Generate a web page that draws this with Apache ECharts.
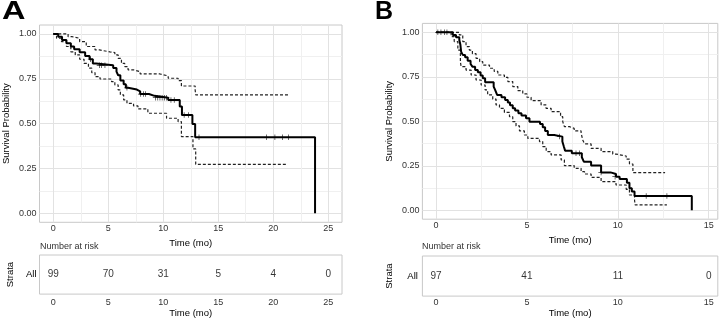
<!DOCTYPE html>
<html><head><meta charset="utf-8">
<script src="https://cdn.jsdelivr.net/npm/echarts@6/dist/echarts.min.js"></script>
<style>html,body{margin:0;padding:0;background:#fff}#c{width:722px;height:319px}</style>
</head><body><div id="c"></div>
<script>
// ---------- Panel A data ----------
const aTime = [0, 0.45, 0.8, 1.2, 1.6, 1.9, 2.4, 2.9, 3.3, 3.6, 3.9, 5.45, 5.75, 5.9, 6.1, 6.4, 6.6, 6.8, 7.6, 7.9, 8.7, 9.2, 10.45, 11.5, 11.7, 12.65, 12.9, 23.8];
const aSurv = [1, 0.985, 0.967, 0.948, 0.93, 0.915, 0.898, 0.877, 0.859, 0.836, 0.825, 0.81, 0.79, 0.77, 0.74, 0.72, 0.70, 0.69, 0.68, 0.665, 0.655, 0.645, 0.632, 0.595, 0.548, 0.498, 0.424, 0];
const aUpperTime = [0, 0.6, 1.35, 1.7, 2.4, 3.0, 3.8, 4.2, 5.15, 5.6, 5.9, 6.2, 6.5, 6.8, 7.3, 7.9, 9.7, 10.45, 11.35, 11.65, 12.9, 12.95, 21.4];
const aUpper = [1, 1, 0.985, 0.976, 0.957, 0.93, 0.911, 0.90, 0.896, 0.883, 0.864, 0.836, 0.818, 0.80, 0.79, 0.777, 0.766, 0.753, 0.74, 0.71, 0.688, 0.66, 0.66];
const aLowerTime = [0, 0.3, 0.75, 1.2, 1.6, 2.0, 2.4, 2.8, 3.2, 3.5, 3.8, 4.25, 5.3, 5.6, 5.9, 6.1, 6.4, 6.7, 7.3, 7.7, 8.6, 10.3, 11.35, 11.65, 12.7, 12.95, 21.15];
const aLower = [1, 0.976, 0.957, 0.93, 0.90, 0.883, 0.859, 0.836, 0.81, 0.784, 0.762, 0.749, 0.734, 0.716, 0.688, 0.66, 0.632, 0.613, 0.599, 0.582, 0.558, 0.53, 0.511, 0.428, 0.359, 0.273, 0.273];
const aCensorTime = [3.4, 4.2, 4.4, 4.7, 6.7, 7.95, 8.2, 8.4, 9.3, 9.5, 9.7, 9.9, 10.1, 10.3, 10.7, 11.0, 11.9, 12.3, 13.25, 19.4, 20.15, 20.85, 21.4];
const aCensorSurv = [0.859, 0.825, 0.825, 0.825, 0.70, 0.665, 0.665, 0.665, 0.645, 0.645, 0.645, 0.645, 0.645, 0.645, 0.632, 0.632, 0.548, 0.548, 0.424, 0.424, 0.424, 0.424, 0.424];
const aRiskTime = [0, 5, 10, 15, 20, 25];
const aRisk = [99, 70, 31, 5, 4, 0];

// ---------- Panel B data ----------
const bTime = [0, 0.92, 1.1, 1.28, 1.34, 1.38, 1.47, 1.6, 1.74, 1.9, 2.0, 2.15, 2.3, 2.45, 2.57, 2.7, 3.17, 3.25, 3.36, 3.6, 3.8, 3.95, 4.07, 4.22, 4.35, 4.53, 4.7, 4.95, 5.14, 5.72, 5.87, 6.0, 6.15, 6.5, 6.95, 7.03, 7.1, 7.47, 8.02, 8.13, 8.53, 9.08, 9.6, 9.9, 10.1, 10.5, 10.64, 10.77, 10.92, 14.07];
const bSurv = [1, 0.985, 0.972, 0.957, 0.93, 0.891, 0.873, 0.86, 0.84, 0.822, 0.807, 0.788, 0.775, 0.757, 0.742, 0.719, 0.695, 0.676, 0.648, 0.635, 0.62, 0.605, 0.59, 0.573, 0.56, 0.545, 0.532, 0.517, 0.498, 0.485, 0.466, 0.446, 0.423, 0.414, 0.386, 0.358, 0.335, 0.32, 0.298, 0.273, 0.251, 0.213, 0.204, 0.189, 0.176, 0.155, 0.124, 0.105, 0.08, 0];
const bUpperTime = [0, 1.28, 1.47, 1.65, 1.83, 2.0, 2.2, 2.4, 2.57, 2.94, 3.2, 3.4, 3.76, 3.95, 4.22, 4.5, 4.77, 5.0, 5.23, 5.78, 6.05, 6.33, 6.85, 6.97, 7.06, 7.34, 7.6, 7.98, 8.07, 8.17, 8.53, 9.08, 9.72, 9.9, 10.46, 10.64, 10.83, 12.6];
const bUpper = [1, 0.985, 0.948, 0.92, 0.9, 0.88, 0.854, 0.835, 0.816, 0.798, 0.78, 0.76, 0.747, 0.723, 0.695, 0.672, 0.654, 0.635, 0.616, 0.592, 0.573, 0.554, 0.526, 0.498, 0.47, 0.46, 0.446, 0.433, 0.395, 0.373, 0.348, 0.33, 0.316, 0.305, 0.287, 0.26, 0.212, 0.212];
const bLowerTime = [0, 0.83, 1.0, 1.2, 1.34, 1.38, 1.65, 1.93, 2.2, 2.48, 2.7, 2.84, 3.12, 3.3, 3.49, 3.76, 4.04, 4.22, 4.4, 4.59, 4.86, 5.05, 5.69, 5.87, 6.06, 6.33, 6.88, 7.06, 7.6, 7.98, 8.17, 8.53, 9.08, 9.9, 10.46, 10.64, 10.92, 10.95, 12.7];
const bLower = [1, 0.976, 0.948, 0.9, 0.835, 0.807, 0.788, 0.76, 0.732, 0.704, 0.676, 0.648, 0.625, 0.592, 0.573, 0.55, 0.526, 0.498, 0.474, 0.446, 0.423, 0.404, 0.386, 0.358, 0.33, 0.311, 0.283, 0.251, 0.236, 0.217, 0.204, 0.185, 0.161, 0.142, 0.118, 0.086, 0.058, 0.03, 0.03];
const bCensorTime = [0.1, 0.27, 0.46, 0.6, 6.8, 7.7, 7.9, 9.08, 9.85, 11.56, 12.7];
const bCensorSurv = [1, 1, 1, 1, 0.414, 0.32, 0.32, 0.213, 0.189, 0.08, 0.08];
const bRiskTime = [0, 5, 10, 15];
const bRisk = [97, 41, 11, 0];

// ---------- helpers ----------
const zip = (xs, ys) => xs.map((x, i) => [x, ys[i]]);
const FONT = 'Liberation Sans';
const NONE = 'rgba(0,0,0,0)';
const MAJ = '#e2e2e2', MIN = '#f0f0f0';
const isMult = (v, m) => Math.abs(v / m - Math.round(v / m)) < 1e-6;
const xFmt = v => isMult(v, 5) ? String(Math.round(v)) : '';
const yFmt = v => isMult(v, 0.25) ? v.toFixed(2) : '';
const yColors = [NONE, NONE, MAJ, NONE, NONE, NONE, NONE, MIN, NONE, NONE];
const axColors = [NONE, MAJ, NONE, MIN];
const bxColors = Array.from({length: 20}, (_, i) => i === 3 ? MAJ : (i === 13 ? MIN : NONE));
const plusSym = 'path://M4.35,0h1.3v10h-1.3z M0,4.35h10v1.3h-10z';
const TICK = { fontFamily: FONT, fontSize: 9, color: '#333' };
const TITLE = { fontFamily: FONT, fontSize: 9.5, color: '#000' };

function xAxisPlot(gi, min, max, interval, colors, margin, nameGap) {
  return { type: 'value', gridIndex: gi, min, max, interval,
    name: 'Time (mo)', nameLocation: 'middle', nameGap, nameTextStyle: TITLE,
    axisLine: { show: false }, axisTick: { show: false },
    axisLabel: Object.assign({ formatter: xFmt, margin }, TICK),
    splitLine: { show: true, lineStyle: { color: colors, width: 1 } } };
}
function yAxisPlot(gi, nameGap) {
  return { type: 'value', gridIndex: gi, min: -0.05, max: 1.05, interval: 0.025,
    name: 'Survival Probability', nameLocation: 'middle', nameGap, nameTextStyle: TITLE,
    axisLine: { show: false }, axisTick: { show: false },
    axisLabel: Object.assign({ formatter: yFmt, margin: 3 }, TICK),
    splitLine: { show: true, lineStyle: { color: yColors, width: 1 } } };
}
function xAxisRisk(gi, min, max, interval, margin, nameGap) {
  return { type: 'value', gridIndex: gi, min, max, interval,
    name: 'Time (mo)', nameLocation: 'middle', nameGap, nameTextStyle: TITLE,
    axisLine: { show: false }, axisTick: { show: false }, splitLine: { show: false },
    axisLabel: Object.assign({ formatter: xFmt, margin }, TICK) };
}
function yAxisRisk(gi, nameGap, margin) {
  return { type: 'category', gridIndex: gi, data: ['All'],
    name: 'Strata', nameLocation: 'middle', nameGap, nameTextStyle: TITLE,
    axisLine: { show: false }, axisTick: { show: false }, splitLine: { show: false },
    axisLabel: { margin, fontFamily: FONT, fontSize: 9.5, color: '#000' } };
}
function km(xi, yi, data, dashed) {
  return { type: 'line', xAxisIndex: xi, yAxisIndex: yi, step: 'end', data, symbol: 'none',
    silent: true, animation: false,
    lineStyle: dashed ? { color: '#222', width: 1.2, type: [3, 2] } : { color: '#000', width: 2 } };
}
function censors(xi, yi, data) {
  return { type: 'scatter', xAxisIndex: xi, yAxisIndex: yi, data, symbol: plusSym, symbolSize: 5.5,
    itemStyle: { color: '#000' }, silent: true, animation: false, z: 5 };
}
function risk(xi, yi, times, counts) {
  return { type: 'scatter', xAxisIndex: xi, yAxisIndex: yi,
    data: times.map((t, i) => [t, 'All', counts[i]]), symbolSize: 1,
    itemStyle: { color: NONE }, silent: true, animation: false,
    label: { show: true, position: 'inside', formatter: p => String(p.value[2]),
      fontFamily: FONT, fontSize: 10, color: '#000' } };
}

const gridStyle = { show: true, borderColor: '#c8c8c8', borderWidth: 1, backgroundColor: '#fff' };
const chart = echarts.init(document.getElementById('c'), null, { renderer: 'canvas' });
chart.setOption({
  animation: false,
  grid: [
    Object.assign({ left: 39.5, top: 25, width: 302.5, height: 197.3 }, gridStyle),
    Object.assign({ left: 39.5, top: 255, width: 302.5, height: 46 }, gridStyle),
    Object.assign({ left: 422.4, top: 23.4, width: 295.4, height: 195.8 }, gridStyle),
    Object.assign({ left: 422.4, top: 256, width: 295.4, height: 45 }, gridStyle)
  ],
  xAxis: [
    xAxisPlot(0, -1.25, 26.25, 1.25, axColors, 2, 4),
    xAxisRisk(1, -1.25, 26.25, 1.25, 4, 6),
    xAxisPlot(2, -0.75, 15.5, 0.25, bxColors, 2, 8),
    xAxisRisk(3, -0.75, 15.5, 0.25, 2, 6)
  ],
  yAxis: [
    yAxisPlot(0, 28),
    yAxisRisk(1, 24, 3),
    yAxisPlot(2, 28),
    yAxisRisk(3, 28, 4.5)
  ],
  series: [
    km(0, 0, zip(aUpperTime, aUpper), true),
    km(0, 0, zip(aLowerTime, aLower), true),
    km(0, 0, zip(aTime, aSurv), false),
    censors(0, 0, zip(aCensorTime, aCensorSurv)),
    risk(1, 1, aRiskTime, aRisk),
    km(2, 2, zip(bUpperTime, bUpper), true),
    km(2, 2, zip(bLowerTime, bLower), true),
    km(2, 2, zip(bTime, bSurv), false),
    censors(2, 2, zip(bCensorTime, bCensorSurv)),
    risk(3, 3, bRiskTime, bRisk)
  ],
  graphic: [
    { type: 'text', left: 2, top: 0, scaleX: 1.3, style: { text: 'A', fontFamily: FONT, fontWeight: 'bold', fontSize: 25, fill: '#000' } },
    { type: 'text', left: 375, top: 0, style: { text: 'B', fontFamily: FONT, fontWeight: 'bold', fontSize: 25, fill: '#000' } },
    { type: 'text', left: 40, top: 242, style: { text: 'Number at risk', fontFamily: FONT, fontSize: 9, fill: '#333' } },
    { type: 'text', left: 422, top: 242, style: { text: 'Number at risk', fontFamily: FONT, fontSize: 9, fill: '#333' } }
  ]
});
</script></body></html>
